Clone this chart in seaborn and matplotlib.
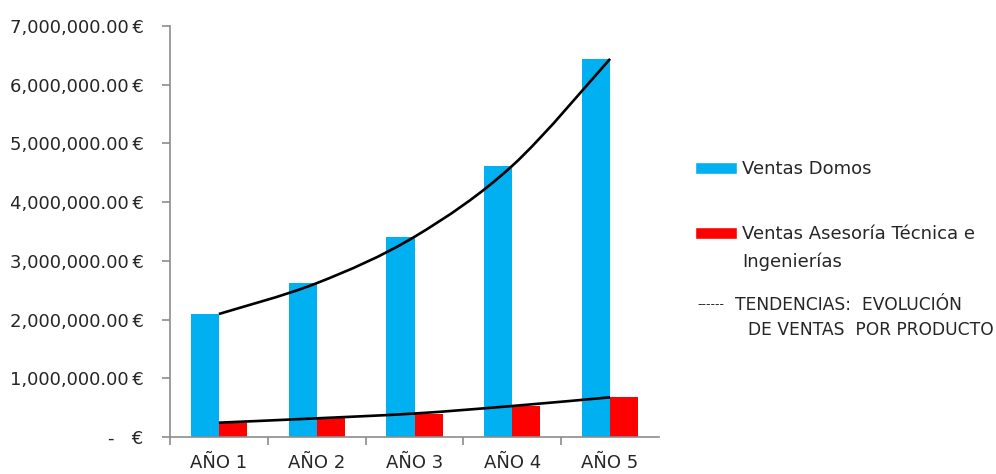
import numpy as np
import pandas as pd
import matplotlib
matplotlib.use("Agg")
import matplotlib.pyplot as plt
from matplotlib.path import Path
from matplotlib.patches import PathPatch, Patch
import seaborn as sns

# ---- data ----
years = ["AÑO 1", "AÑO 2", "AÑO 3", "AÑO 4", "AÑO 5"]
ventas_domos = [2095000, 2620000, 3410000, 4620000, 6440000]
ventas_asesoria = [244000, 318000, 400000, 528000, 676000]
series_names = ["Ventas Domos", "Ventas Asesoría Técnica e Ingenierías"]
legend_lines = ["Ventas Domos", "Ventas Asesoría Técnica e", "Ingenierías"]
y_ticks = [0, 1000000, 2000000, 3000000, 4000000, 5000000, 6000000, 7000000]

colors = ["#00B0F0", "#FF0000"]
TXT = "#262626"

df = pd.DataFrame({
    "year": years * 2,
    "value": ventas_domos + ventas_asesoria,
    "serie": [series_names[0]] * 5 + [series_names[1]] * 5,
})

sns.set_theme(style="white")
plt.rcParams["font.family"] = ["DejaVu Sans"]

fig = plt.figure(figsize=(9.96, 4.74), dpi=100)
ax = fig.add_axes([170 / 996, 1 - 437 / 474, (659 - 170) / 996, (437 - 26) / 474])

sns.barplot(data=df, x="year", y="value", hue="serie", palette=colors,
            width=0.574, dodge=True, saturation=1, ax=ax, legend=False,
            linewidth=0, edgecolor="none")


def smooth_path(xs, ys):
    """Bezier-smoothed path through the given points (Excel-like smoothed line)."""
    xs = np.asarray(xs, float)
    ys = np.asarray(ys, float)
    n = len(xs)
    verts = [(xs[0], ys[0])]
    codes = [Path.MOVETO]
    for i in range(n - 1):
        x0, y0 = (xs[i - 1], ys[i - 1]) if i > 0 else (xs[i], ys[i])
        x1, y1 = xs[i], ys[i]
        x2, y2 = xs[i + 1], ys[i + 1]
        x3, y3 = (xs[i + 2], ys[i + 2]) if i + 2 < n else (xs[i + 1], ys[i + 1])
        c1 = (x1 + (x2 - x0) / 6, y1 + (y2 - y0) / 6)
        c2 = (x2 - (x3 - x1) / 6, y2 - (y3 - y1) / 6)
        verts += [c1, c2, (x2, y2)]
        codes += [Path.CURVE4] * 3
    return Path(verts, codes)


xpos = np.arange(len(years))
for vals in (ventas_domos, ventas_asesoria):
    ax.add_patch(PathPatch(smooth_path(xpos, vals), facecolor="none",
                           edgecolor="black", lw=1.9, zorder=5))

ax.set_xlim(-0.5, 4.5)
ax.set_ylim(0, 7000000)
ax.set_yticks(y_ticks)


def eur(v):
    if v == 0:
        return "-   €"
    return f"{v:,.2f}\u2009€"


ax.set_yticklabels([eur(v) for v in y_ticks])
ax.set_xlabel("")
ax.set_ylabel("")

for side in ("top", "right"):
    ax.spines[side].set_visible(False)
for side in ("left", "bottom"):
    ax.spines[side].set_color("#8C8C8C")
    ax.spines[side].set_linewidth(1.2)

ax.tick_params(axis="y", which="major", length=6, width=1.2, color="#8C8C8C",
               direction="out", left=True, pad=13, labelsize=13, labelcolor=TXT)
ax.tick_params(axis="x", which="major", length=0, pad=12, labelsize=13, labelcolor=TXT)
ax.set_xticks([-0.5, 0.5, 1.5, 2.5, 3.5], minor=True)
ax.tick_params(axis="x", which="minor", length=6, width=1.2, color="#8C8C8C",
               direction="out", bottom=True)

# legend (first line of each label next to its swatch)
handles = [Patch(facecolor=colors[0]), Patch(facecolor=colors[1])]
leg = fig.legend(handles, legend_lines[:2], loc="upper left",
                 bbox_to_anchor=(695 / 996, 1 - 160 / 474), frameon=False,
                 fontsize=13, handlelength=2.33, handleheight=0.67,
                 handletextpad=0.28, labelspacing=2.62, borderaxespad=0,
                 borderpad=0)
for t in leg.get_texts():
    t.set_color(TXT)
fig.text(742 / 996, 1 - 262 / 474, legend_lines[2], fontsize=13, color=TXT,
         va="center", ha="left")

fig.text(697 / 996, 1 - 305 / 474, "------", fontsize=9, color=TXT,
         va="center", ha="left")
fig.text(735 / 996, 1 - 305 / 474, "TENDENCIAS:  EVOLUCIÓN",
         fontsize=12.3, color=TXT, va="center", ha="left")
fig.text(748 / 996, 1 - 330 / 474, "DE VENTAS  POR PRODUCTO",
         fontsize=12.3, color=TXT, va="center", ha="left")

fig.savefig("out.png", dpi=100, facecolor="white")
